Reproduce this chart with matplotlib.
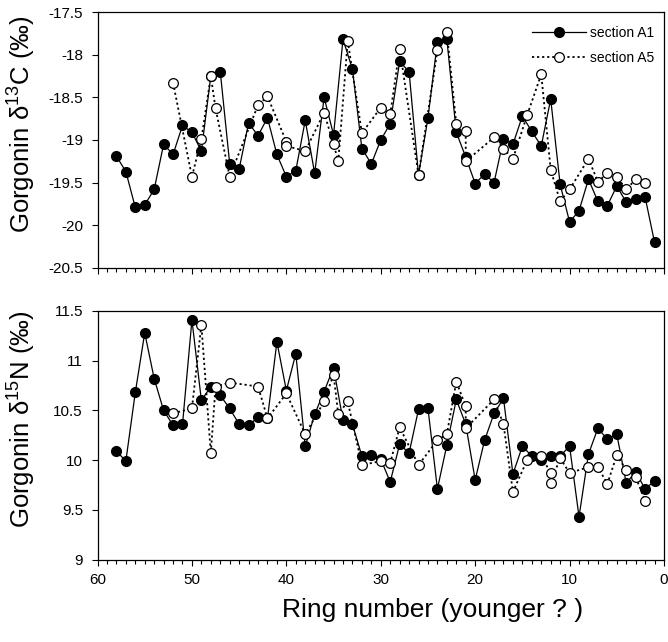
import matplotlib
matplotlib.use('Agg')
import matplotlib.pyplot as plt
import matplotlib.ticker as ticker

plt.rcParams['font.family'] = ['Liberation Sans', 'DejaVu Sans']
plt.rcParams['mathtext.default'] = 'regular'
plt.rcParams['axes.unicode_minus'] = False

# Section A1: one value per ring, ring 58 down to ring 1
anillos_a1 = list(range(58, 0, -1))
c13_a1 = [-19.19, -19.37, -19.79, -19.76, -19.58, -19.05, -19.17, -18.83, -18.91, -19.13,
          -18.25, -18.20, -19.28, -19.34, -18.80, -18.95, -18.74, -19.17, -19.43, -19.36,
          -18.77, -19.39, -18.50, -18.94, -17.82, -18.17, -19.10, -19.28, -19.00, -18.81,
          -18.08, -18.20, -19.41, -18.74, -17.85, -17.82, -18.91, -19.20, -19.51, -19.40,
          -19.50, -18.99, -19.05, -18.72, -18.90, -19.07, -18.52, -19.52, -19.96, -19.83,
          -19.46, -19.72, -19.77, -19.54, -19.73, -19.69, -19.67, -20.20]
n15_a1 = [10.09, 9.99, 10.68, 11.28, 10.82, 10.50, 10.35, 10.36, 11.41, 10.60,
          10.74, 10.65, 10.52, 10.36, 10.35, 10.43, 10.42, 11.19, 10.70, 11.07,
          10.14, 10.46, 10.69, 10.93, 10.40, 10.36, 10.04, 10.05, 10.01, 9.78,
          10.16, 10.07, 10.51, 10.52, 9.71, 10.15, 10.61, 10.36, 9.80, 10.20,
          10.47, 10.62, 9.86, 10.14, 10.04, 10.00, 10.04, 10.04, 10.14, 9.43,
          10.06, 10.32, 10.21, 10.26, 9.77, 9.88, 9.71, 9.79]

# Section A5 (carbono)
anillos_a5_c = [52, 50, 49, 48, 47.5, 46, 43, 42, 40, 40, 38, 36, 35, 34.5, 33.5, 32, 30, 29,
                28, 26, 24, 23, 22, 21, 21, 18, 17, 16, 14.5, 13, 12, 11, 10, 8, 7, 6, 5, 4, 3, 2]
c13_a5 = [-18.33, -19.43, -18.99, -18.25, -18.63, -19.43, -18.59, -18.49, -19.02, -19.07,
          -19.13, -18.68, -19.05, -19.25, -17.84, -18.92, -18.62, -18.70, -17.93, -19.41,
          -17.95, -17.74, -18.81, -18.89, -19.25, -18.97, -19.10, -19.22, -18.71, -18.23,
          -19.35, -19.72, -19.58, -19.22, -19.49, -19.39, -19.43, -19.58, -19.46, -19.50]

# Section A5 (nitrogeno)
anillos_a5_n = [52, 50, 49, 48, 47.5, 46, 43, 42, 40, 38, 36, 35, 34.5, 33.5, 32, 30, 29,
                28, 26, 24, 23, 22, 21, 21, 18, 17, 16, 14.5, 13, 12, 12, 11, 10, 8, 7, 6, 5, 4, 3, 2]
n15_a5 = [10.47, 10.52, 11.36, 10.07, 10.74, 10.78, 10.74, 10.42, 10.67, 10.26,
          10.59, 10.86, 10.46, 10.59, 9.95, 9.99, 9.97, 10.33, 9.95, 10.20,
          10.26, 10.79, 10.54, 10.32, 10.61, 10.36, 9.68, 10.00, 10.04, 9.87,
          9.77, 10.02, 9.87, 9.93, 9.93, 9.76, 10.05, 9.90, 9.83, 9.59]

fig = plt.figure(figsize=(6.68, 6.42), dpi=100)
ax1 = fig.add_axes([0.146, 0.5826, 0.848, 0.3987])
ax2 = fig.add_axes([0.146, 0.1285, 0.848, 0.3871])

estilo_a1 = dict(color='black', lw=0.9, marker='o', ms=7, mfc='black', mec='black', zorder=3)
estilo_a5 = dict(color='black', lw=1.3, ls=(0, (1.2, 1.6)), marker='o', ms=7, mfc='white',
                 mec='black', mew=0.9, zorder=4)

ax1.plot(anillos_a1, c13_a1, label='section A1', **estilo_a1)
ax1.plot(anillos_a5_c, c13_a5, label='section A5', **estilo_a5)
ax2.plot(anillos_a1, n15_a1, **estilo_a1)
ax2.plot(anillos_a5_n, n15_a5, **estilo_a5)

ax1.set_ylim(-20.5, -17.5)
ax2.set_ylim(9, 11.5)
for ax in (ax1, ax2):
    ax.set_xlim(60, 0)
    ax.xaxis.set_major_locator(ticker.MultipleLocator(10))
    ax.xaxis.set_minor_locator(ticker.MultipleLocator(1))
    ax.yaxis.set_major_locator(ticker.MultipleLocator(0.5))
    ax.yaxis.set_major_formatter(ticker.FormatStrFormatter('%g'))
    ax.tick_params(axis='both', which='major', direction='out', length=4.5, width=0.8,
                   labelsize=11)
    ax.tick_params(axis='y', pad=6)
    ax.tick_params(axis='x', which='minor', direction='out', length=3, width=0.8)
    for s in ax.spines.values():
        s.set_linewidth(0.9)

ax1.tick_params(axis='x', labelbottom=False)
ax2.tick_params(axis='x', pad=5)

ax1.set_ylabel('Gorgonin δ$^{13}$C (‰)', fontsize=18.5)
ax2.set_ylabel('Gorgonin δ$^{15}$N (‰)', fontsize=18.5)
ax1.yaxis.set_label_coords(-0.105, 0.563)
ax2.yaxis.set_label_coords(-0.105, 0.565)

fig.text(0.647, 0.05, 'Ring number (younger ? )', fontsize=19, ha='center', va='center')

ax1.legend(loc='upper right', bbox_to_anchor=(0.982, 0.945), frameon=False, fontsize=10,
           handlelength=3.9, handletextpad=0.25, labelspacing=0.8, borderpad=0,
           borderaxespad=0)

fig.savefig('out.png', dpi=100)
